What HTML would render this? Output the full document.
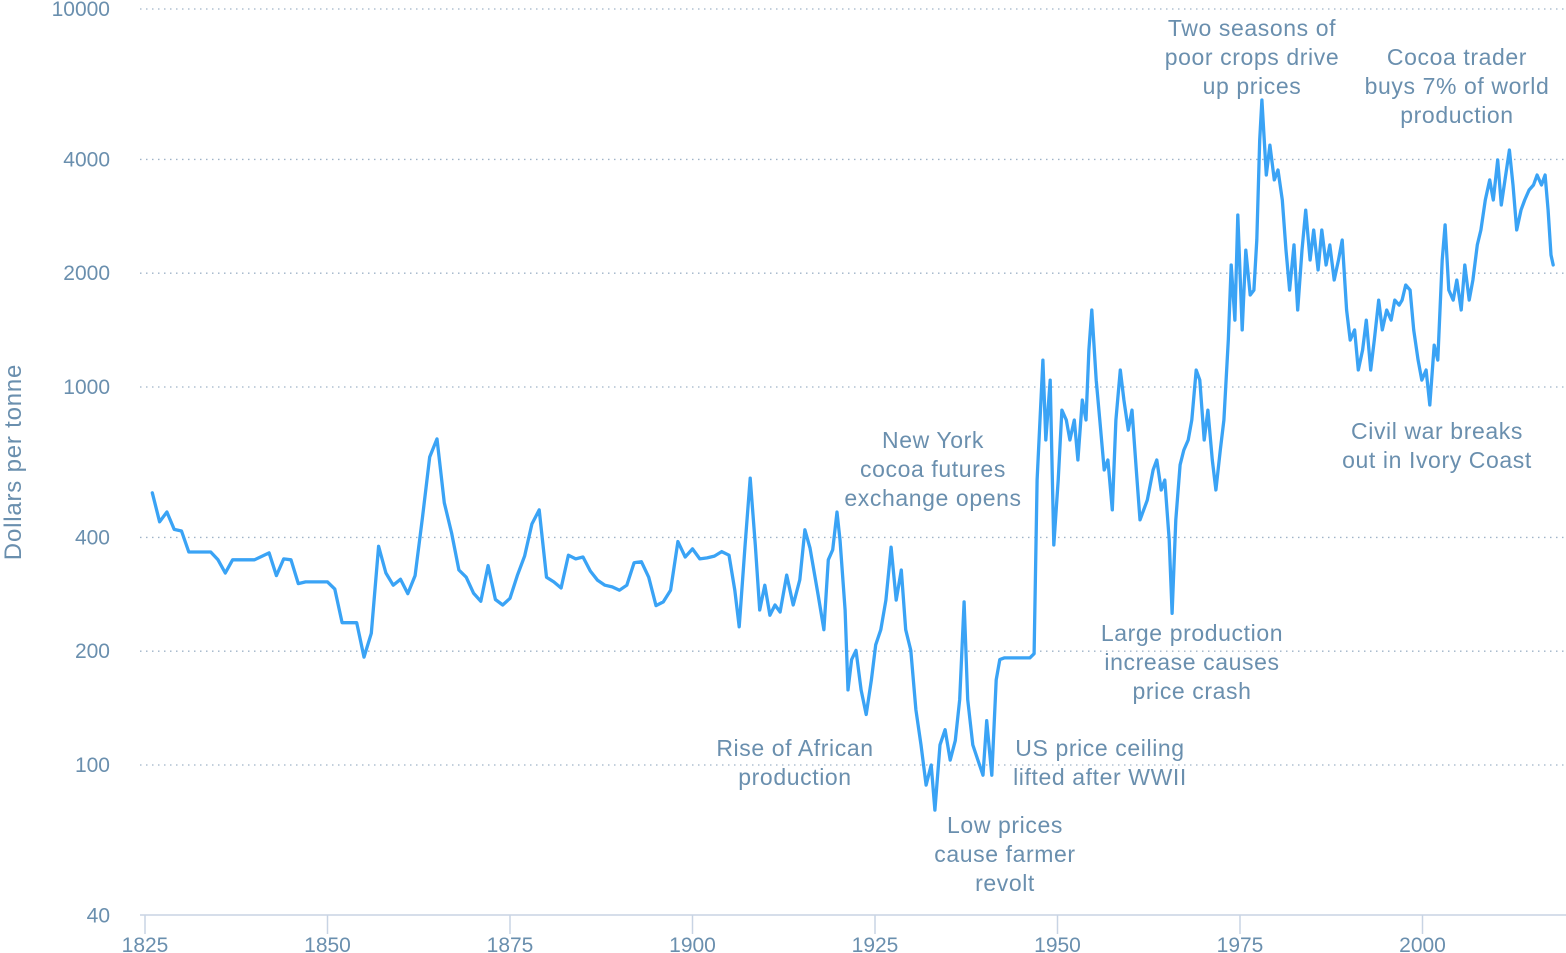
<!DOCTYPE html>
<html><head><meta charset="utf-8">
<style>
html,body{margin:0;padding:0;background:#fff;}
svg{display:block;font-family:"Liberation Sans",sans-serif;}
.lbl{fill:#6a8fae;font-size:21px;}
.ann{fill:#6a8fae;font-size:23px;text-anchor:middle;letter-spacing:0.6px;}
</style></head>
<body>
<svg id="chart" width="1566" height="953" viewBox="0 0 1566 953">
<g id="grid"></g>
<g id="yaxis"></g>
<g id="xaxis"></g>
<text class="lbl" transform="translate(21,462) rotate(-90)" text-anchor="middle" style="font-size:24px;letter-spacing:0.8px">Dollars per tonne</text>
<g id="series"></g>
<g>
<text class="ann"><tspan x="1252" y="36">Two seasons of</tspan><tspan x="1252" y="65">poor crops drive</tspan><tspan x="1252" y="94">up prices</tspan></text>
<text class="ann"><tspan x="1457" y="65">Cocoa trader</tspan><tspan x="1457" y="94">buys 7% of world</tspan><tspan x="1457" y="123">production</tspan></text>
<text class="ann"><tspan x="933" y="448">New York</tspan><tspan x="933" y="477">cocoa futures</tspan><tspan x="933" y="506">exchange opens</tspan></text>
<text class="ann"><tspan x="1437" y="439">Civil war breaks</tspan><tspan x="1437" y="468">out in Ivory Coast</tspan></text>
<text class="ann"><tspan x="1192" y="641">Large production</tspan><tspan x="1192" y="670">increase causes</tspan><tspan x="1192" y="699">price crash</tspan></text>
<text class="ann"><tspan x="795" y="756">Rise of African</tspan><tspan x="795" y="785">production</tspan></text>
<text class="ann"><tspan x="1100" y="756">US price ceiling</tspan><tspan x="1100" y="785">lifted after WWII</tspan></text>
<text class="ann"><tspan x="1005" y="833">Low prices</tspan><tspan x="1005" y="862">cause farmer</tspan><tspan x="1005" y="891">revolt</tspan></text>
</g>
</svg>
<script>
const yTicks = [40, 100, 200, 400, 1000, 2000, 4000, 10000];
const xTicks = [1825, 1850, 1875, 1900, 1925, 1950, 1975, 2000];
const years = [1826,1827,1828,1829,1830,1831,1832,1833,1834,1835,1836,1837,1838,1839,1840,1842,1843,1844,1845,1846,1847,1848,1849,1850,1851,1852,1853,1854,1855,1856,1857,1858,1859,1860,1861,1862,1863,1864,1865,1866,1867,1868,1869,1870,1871,1872,1873,1874,1875,1876,1877,1878,1879,1880,1881,1882,1883,1884,1885,1886,1887,1888,1889,1890,1891,1892,1893,1894,1895,1896,1897,1898,1899,1900,1901,1902,1903,1904,1905,
1905.8,1906.4,1907.2,1907.9,1908.6,1909.2,1909.9,1910.6,1911.3,1912.0,1912.9,1913.8,1914.7,1915.4,1916.1,1917.2,1918.0,1918.6,1919.2,1919.8,1920.2,1920.9,1921.3,1921.8,1922.4,1923.1,1923.8,1924.5,1925.1,1925.8,1926.5,1927.2,1927.9,1928.6,1929.2,1929.9,1930.6,1931.3,1932.0,1932.7,1933.2,1933.9,1934.6,1935.3,1936.0,1936.6,1937.2,1937.7,1938.4,1939.1,1939.8,1940.3,1941.0,1941.6,1942.1,1942.7,1946.2,1946.8,1947.2,1948.0,1948.4,1949.0,1949.5,1950.1,1950.6,
1951.2,1951.7,1952.3,1952.8,1953.4,1953.9,1954.3,1954.7,1955.3,1955.8,1956.4,1956.9,1957.5,1958.0,1958.6,1959.1,1959.7,1960.2,1960.8,1961.3,1962.3,1963.1,1963.6,1964.2,1964.7,1965.3,1965.7,1966.2,1966.8,1967.3,1967.9,1968.4,1969.0,1969.5,1970.1,1970.6,1971.2,1971.7,1972.3,1972.8,1973.4,1973.8,1974.3,1974.7,1975.3,1975.8,1976.4,1976.9,1977.3,1977.7,1978.0,1978.6,1979.1,1979.7,1980.2,1980.8,1981.3,1981.8,1982.4,1982.9,1983.5,1984.0,1984.6,1985.1,1985.7,1986.2,1986.8,1987.3,1987.9,1988.5,1989.0,1989.6,1990.1,1990.7,1991.2,1991.8,1992.3,1992.9,1993.4,1994.0,1994.5,1995.1,1995.7,1996.2,1996.8,1997.2,1997.7,1998.3,1998.8,1999.4,1999.9,2000.5,2001.0,2001.6,2002.1,2002.7,2003.1,2003.6,2004.2,2004.7,2005.3,2005.8,2006.4,2006.9,2007.5,2008.0,2008.6,2009.2,2009.7,2010.3,2010.8,2011.4,2011.9,2012.4,2012.9,2013.5,2014.0,2014.6,2015.2,2015.7,2016.3,2016.8,2017.2,2017.6,2017.9];
const prices = [525,440,467,420,416,366,366,366,366,349,322,349,349,349,349,364,317,351,349,302,305,305,305,305,292,238,238,238,193,223,379,322,299,310,284,317,450,653,729,494,411,328,314,285,271,337,274,265,276,317,357,434,473,314,305,294,359,351,355,326,308,299,296,290,299,343,345,314,264,270,290,390,355,373,351,353,357,367,359,
290,232,382,574,382,257,299,249,265,254,318,265,309,419,375,282,228,349,371,467,394,257,158,190,201,158,136,168,208,228,273,377,273,328,228,201,140,113,88.5,100,76,113,124,103,116,149,270,149,113,103,94,131,94,168,190,192,192,197,567,1178,724,1043,382,567,869,
818,724,818,641,924,818,1253,1598,1043,818,603,641,473,818,1109,924,769,869,603,445,502,603,641,534,567,394,252,445,622,681,724,818,1109,1043,724,869,641,534,681,818,1331,2102,1503,2851,1416,2303,1751,1805,2449,4500,5745,3638,4365,3530,3750,3124,2303,1805,2376,1598,2303,2938,2167,2602,2040,2602,2102,2376,1919,2167,2449,1598,1331,1416,1109,1253,1503,1109,1331,1698,1416,1598,1503,1698,1647,1698,1861,1805,1416,1178,1043,1109,896,1291,1178,2167,2684,1805,1698,1919,1598,2102,1698,1919,2376,2602,3124,3530,3124,3988,3030,3638,4236,3422,2602,2938,3124,3320,3422,3638,3422,3638,2938,2234,2102];

const NS = "http://www.w3.org/2000/svg";
function yScale(v){ return 387 - 378*(Math.log10(v) - 3); }
function xScale(yr){ return 145 + (yr - 1825)*7.3; }
function mk(tag, attrs, parent){ const e=document.createElementNS(NS,tag); for(const k in attrs) e.setAttribute(k,attrs[k]); parent.appendChild(e); return e; }

const grid=document.getElementById('grid'), yaxis=document.getElementById('yaxis'), xaxis=document.getElementById('xaxis'), series=document.getElementById('series');
yTicks.forEach(t=>{
  const y=yScale(t);
  if(t!==40){
    const l=mk('line',{x1:140,x2:1566,y1:y,y2:y,stroke:'#9fb3c8','stroke-width':1.3,'stroke-dasharray':'1.5 4.5'},grid);
    
    
  }
  const tx=mk('text',{x:110,y:y+7,'text-anchor':'end','class':'lbl'},yaxis);
  tx.textContent=String(t);
  
  
});
const base=mk('line',{x1:140,x2:1566,y1:915,y2:915,stroke:'#c8d4e4','stroke-width':1.5},xaxis);


xTicks.forEach(t=>{
  const x=xScale(t);
  const tk=mk('line',{x1:x,x2:x,y1:915,y2:934,stroke:'#c8d4e4','stroke-width':1.5},xaxis);
  
  
  const tx=mk('text',{x:x,y:952,'text-anchor':'middle','class':'lbl'},xaxis);
  tx.textContent=String(t);
  
  
});
let d='';
years.forEach((yr,i)=>{ d += (i?'L':'M') + xScale(yr).toFixed(1)+','+yScale(prices[i]).toFixed(1); });
const p=mk('path',{d:d,fill:'none',stroke:'#3aa3f5','stroke-width':3.3,'stroke-linejoin':'round','stroke-linecap':'round'},series);


</script>
</body></html>
